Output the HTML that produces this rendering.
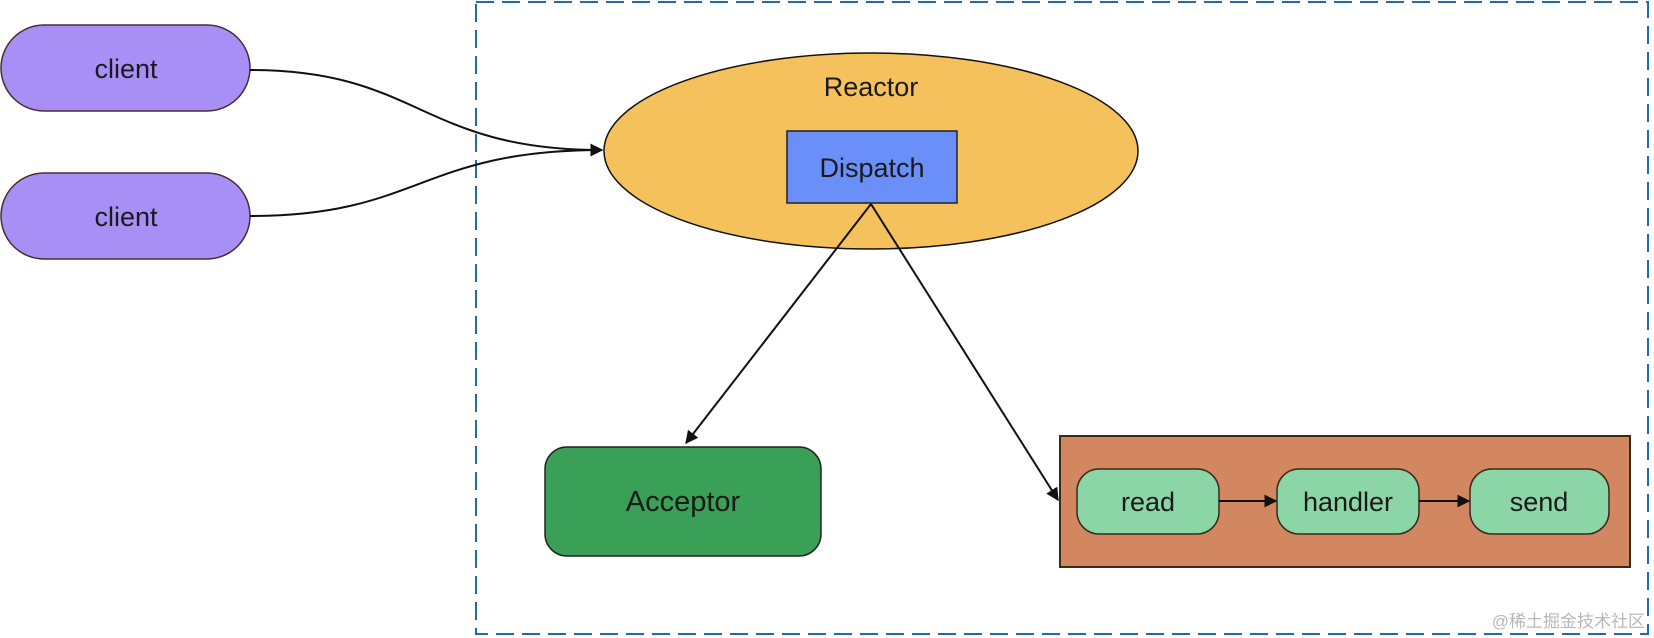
<!DOCTYPE html>
<html><head><meta charset="utf-8"><style>
html,body{margin:0;padding:0;background:#fff;}
svg{display:block;}
text{font-family:"Liberation Sans","Noto Sans CJK SC",sans-serif;fill:#1a1a1a;}
</style></head><body>
<svg width="1654" height="638" viewBox="0 0 1654 638" xmlns="http://www.w3.org/2000/svg">
<defs><marker id="a" viewBox="0 0 10 10" refX="9" refY="5" markerWidth="13" markerHeight="13" orient="auto" markerUnits="userSpaceOnUse"><path d="M0,0 L10,5 L0,10z" fill="#111"/></marker></defs>
<rect x="476" y="2" width="1172" height="632" fill="none" stroke="#1f6bab" stroke-width="2" stroke-dasharray="18,8"/>
<rect x="1" y="25" width="249" height="86" rx="43" fill="#a78ff6" stroke="#4a2d2d" stroke-width="1.5"/>
<text x="126" y="78" font-size="27" text-anchor="middle">client</text>
<rect x="1" y="173" width="249" height="86" rx="43" fill="#a78ff6" stroke="#4a2d2d" stroke-width="1.5"/>
<text x="126" y="226" font-size="27" text-anchor="middle">client</text>
<path d="M250,70 C420,70 420,150 602,150" fill="none" stroke="#111" stroke-width="2" marker-end="url(#a)"/>
<path d="M250,216 C420,216 420,150 602,150" fill="none" stroke="#111" stroke-width="2" marker-end="url(#a)"/>
<ellipse cx="871" cy="151" rx="267" ry="98" fill="#f4c15c" stroke="#111" stroke-width="1.5"/>
<text x="871" y="96" font-size="27" text-anchor="middle">Reactor</text>
<rect x="787" y="131" width="170" height="72" fill="#6b8ff9" stroke="#222" stroke-width="1.5"/>
<text x="872" y="177" font-size="27" text-anchor="middle">Dispatch</text>
<line x1="871" y1="204" x2="686" y2="443" stroke="#111" stroke-width="2" marker-end="url(#a)"/>
<line x1="871" y1="204" x2="1058" y2="500" stroke="#111" stroke-width="2" marker-end="url(#a)"/>
<rect x="545" y="447" width="276" height="109" rx="22" fill="#3a9f57" stroke="#222" stroke-width="1.5"/>
<text x="683" y="511" font-size="29" text-anchor="middle">Acceptor</text>
<rect x="1060" y="436" width="570" height="131" fill="#d38761" stroke="#3a2a1a" stroke-width="2"/>
<rect x="1077" y="469" width="142" height="65" rx="22" fill="#8cd5a6" stroke="#3a2a1a" stroke-width="1.5"/>
<text x="1148" y="511" font-size="27" text-anchor="middle">read</text>
<rect x="1277" y="469" width="142" height="65" rx="22" fill="#8cd5a6" stroke="#3a2a1a" stroke-width="1.5"/>
<text x="1348" y="511" font-size="27" text-anchor="middle">handler</text>
<rect x="1470" y="469" width="139" height="65" rx="22" fill="#8cd5a6" stroke="#3a2a1a" stroke-width="1.5"/>
<text x="1539" y="511" font-size="27" text-anchor="middle">send</text>
<line x1="1219" y1="501" x2="1276" y2="501" stroke="#111" stroke-width="2" marker-end="url(#a)"/>
<line x1="1419" y1="501" x2="1469" y2="501" stroke="#111" stroke-width="2" marker-end="url(#a)"/>
<text x="1645" y="627" font-size="17" text-anchor="end" style="fill:#b8b8b8">@稀土掘金技术社区</text>
</svg>
</body></html>
